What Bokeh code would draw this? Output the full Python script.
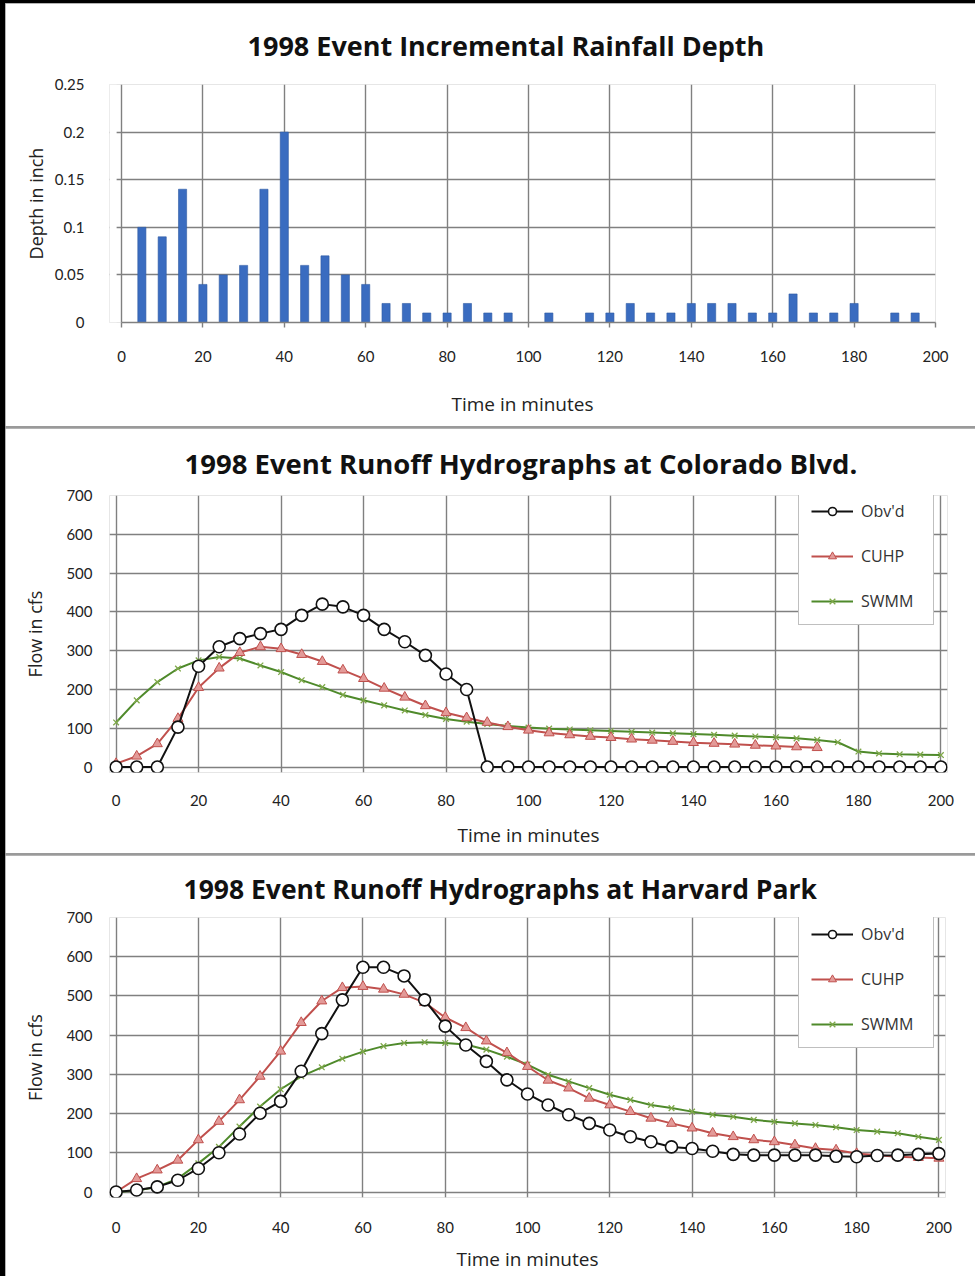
from bokeh.plotting import figure
from bokeh.layouts import column
from bokeh.models import (Range1d, FixedTicker, NumeralTickFormatter, Legend, LegendItem, Title,
                          BoxAnnotation)
from bokeh.embed import file_html
from bokeh.resources import INLINE

# ---------------- data ----------------
rain_time = [5, 10, 15, 20, 25, 30, 35, 40, 45, 50, 55, 60, 65, 70, 75, 80, 85, 90, 95,
             105, 115, 120, 125, 130, 135, 140, 145, 150, 155, 160, 165, 170, 175, 180, 190, 195]
rain_depth = [0.10, 0.09, 0.14, 0.04, 0.05, 0.06, 0.14, 0.20, 0.06, 0.07, 0.05, 0.04, 0.02, 0.02,
              0.01, 0.01, 0.02, 0.01, 0.01,
              0.01, 0.01, 0.01, 0.02, 0.01, 0.01, 0.02, 0.02, 0.02, 0.01, 0.01, 0.03, 0.01, 0.01,
              0.02, 0.01, 0.01]

time_min = [0, 5, 10, 15, 20, 25, 30, 35, 40, 45, 50, 55, 60, 65, 70, 75, 80, 85, 90, 95, 100,
            105, 110, 115, 120, 125, 130, 135, 140, 145, 150, 155, 160, 165, 170, 175, 180,
            185, 190, 195, 200]

colorado_obs = [0, 0, 0, 103, 260, 310, 331, 344, 355, 391, 420, 413, 391, 355, 323, 288, 240, 200,
                0, 0, 0, 0, 0, 0, 0, 0, 0, 0, 0, 0, 0, 0, 0, 0, 0, 0, 0, 0, 0, 0, 0]
colorado_cuhp_time = time_min[:35]
colorado_cuhp = [9, 28, 60, 125, 205, 255, 295, 310, 305, 290, 272, 250, 228, 203, 180, 158, 140,
                 127, 115, 104, 95, 88, 83, 79, 76, 72, 69, 66, 63, 61, 59, 56, 54, 52, 50]
colorado_swmm = [115, 172, 219, 254, 275, 284, 280, 262, 245, 224, 206, 186, 172, 159, 146, 134,
                 124, 117, 111, 106, 102, 99, 97, 95, 93, 91, 89, 87, 85, 83, 81, 79, 77, 74, 70,
                 64, 40, 35, 33, 32, 31]

harvard_obs = [0, 5, 13, 30, 60, 100, 148, 201, 231, 308, 404, 490, 573, 573, 551, 490, 423, 375,
               333, 286, 250, 222, 197, 175, 158, 141, 128, 115, 111, 104, 96, 94, 94, 94, 94, 91,
               90, 93, 94, 96, 98]
harvard_cuhp = [0, 34, 56, 81, 133, 180, 235, 295, 359, 432, 487, 521, 524, 517, 504, 483, 445,
                419, 385, 355, 320, 285, 265, 239, 222, 205, 188, 175, 163, 150, 141, 133, 128,
                120, 111, 107, 98, 94, 90, 88, 86]
harvard_swmm = [0, 4, 13, 34, 73, 115, 167, 218, 262, 295, 318, 340, 358, 372, 380, 382, 380, 376,
                363, 345, 325, 299, 282, 265, 248, 235, 222, 214, 205, 197, 192, 184, 179, 175,
                171, 165, 158, 154, 150, 141, 133]

x_ticks = [0, 20, 40, 60, 80, 100, 120, 140, 160, 180, 200]
depth_ticks = [0, 0.05, 0.1, 0.15, 0.2, 0.25]
flow_ticks = [0, 100, 200, 300, 400, 500, 600, 700]

# ---------------- style ----------------
TFONT = "Open Sans"
LFONT = "Open Sans"
NFONT = "Lato"
GRID = "#808080"
TXT = "#222222"
BAR = "#3a6cc0"
OBS = "#111111"
CUHP_LINE = "#c0504d"
CUHP_FILL = "#e39a98"
SWMM_LINE = "#4f8a2b"
SWMM_MARK = "#7fa84a"
LEFT = 104


def base_style(p, xlabel, ylabel, title, t_size, t_standoff, t_offset):
    p.add_layout(Title(text=title, align="left", text_font=TFONT, text_font_size=t_size,
                       text_font_style="bold", text_color="#111111",
                       standoff=t_standoff, offset=t_offset), "above")
    p.background_fill_color = "white"
    p.border_fill_color = "white"
    p.xaxis.axis_label = xlabel
    p.yaxis.axis_label = ylabel
    for ax in (p.xaxis[0], p.yaxis[0]):
        ax.axis_label_text_font = LFONT
        ax.axis_label_text_font_size = "18px"
        ax.axis_label_text_font_style = "normal"
        ax.axis_label_text_color = TXT
        ax.major_label_text_font = NFONT
        ax.major_label_text_font_size = "15px"
        ax.major_label_text_color = TXT
        ax.minor_tick_line_color = None
    p.xaxis.axis_label_text_font_size = "19px"
    p.xgrid.grid_line_color = GRID
    p.ygrid.grid_line_color = GRID
    p.xgrid.grid_line_width = 1.4
    p.ygrid.grid_line_width = 1.4


# ---------------- panel 1: rainfall ----------------
X1PAD = 2.95
p1 = figure(frame_width=826, frame_height=238, min_border_left=LEFT, min_border_top=81,
            min_border_right=40, min_border_bottom=104,
            x_range=Range1d(-X1PAD, 200), y_range=Range1d(0, 0.25),
            output_backend="svg", toolbar_location=None)
base_style(p1, "Time in minutes", "Depth in inch",
           "1998 Event Incremental Rainfall Depth", "27px", 41, 138)
p1.vbar(x=rain_time, top=rain_depth, width=2.0, fill_color=BAR, line_color="#2f5aa3",
        line_width=0.6)
p1.xaxis.ticker = FixedTicker(ticks=x_ticks)
p1.yaxis.ticker = FixedTicker(ticks=depth_ticks)
p1.yaxis.formatter = NumeralTickFormatter(format="0.[00]")
p1.outline_line_color = None
p1.xaxis.axis_line_color = GRID
p1.xaxis.axis_line_width = 1.4
p1.xaxis.bounds = (0, 200)
p1.xaxis.major_tick_line_color = GRID
p1.xaxis.major_tick_line_width = 1.4
p1.xaxis.major_tick_out = 5
p1.xaxis.major_tick_in = 0
p1.yaxis.axis_line_color = None
p1.yaxis.major_tick_line_color = None
p1.yaxis.major_tick_out = 0
p1.yaxis.major_tick_in = 0
p1.xaxis.major_label_standoff = 23
p1.xaxis.axis_label_standoff = 26
p1.yaxis.major_label_standoff = 25
p1.yaxis.axis_label_standoff = 4
# blank strip left of the time axis origin, leaving short tick stubs of the grid
p1.add_layout(BoxAnnotation(left=-X1PAD, right=-1.2, fill_color="white", fill_alpha=1.0,
                            line_alpha=0.0))

XPAD = 1.6
YPAD = 14


def hydro(frame_w, frame_h, top, right, bottom, title, t_size, t_standoff, t_offset,
          obs, cuhp_t, cuhp, swmm, leg_xy, xl_standoff, xa_standoff):
    p = figure(frame_width=frame_w, frame_height=frame_h, min_border_left=LEFT,
               min_border_top=top, min_border_right=right, min_border_bottom=bottom,
               x_range=Range1d(-XPAD, 200 + XPAD), y_range=Range1d(-YPAD, 700),
               output_backend="svg", toolbar_location=None)
    base_style(p, "Time in minutes", "Flow in cfs", title, t_size, t_standoff, t_offset)
    p.outline_line_color = None
    p.xaxis.ticker = FixedTicker(ticks=x_ticks)
    p.yaxis.ticker = FixedTicker(ticks=flow_ticks)
    for ax in (p.xaxis[0], p.yaxis[0]):
        ax.axis_line_color = None
        ax.major_tick_line_color = None
        ax.major_tick_out = 0
        ax.major_tick_in = 0
    p.xaxis.major_label_standoff = xl_standoff
    p.xaxis.axis_label_standoff = xa_standoff
    p.yaxis.major_label_standoff = 17
    p.yaxis.axis_label_standoff = 16

    sl = p.line(time_min, swmm, line_color=SWMM_LINE, line_width=2)
    sm = p.scatter(time_min, swmm, marker="x", size=8, line_color=SWMM_MARK, line_width=1.3)
    cl = p.line(cuhp_t, cuhp, line_color=CUHP_LINE, line_width=2)
    cm = p.scatter(cuhp_t, cuhp, marker="triangle", size=10, fill_color=CUHP_FILL,
                   line_color=CUHP_LINE, line_width=1)
    ol = p.line(time_min, obs, line_color=OBS, line_width=2)
    om = p.scatter(time_min, obs, marker="circle", size=12, fill_color="white",
                   line_color=OBS, line_width=1.6)

    legend = Legend(items=[LegendItem(label="Obv'd", renderers=[ol, om]),
                           LegendItem(label="CUHP", renderers=[cl, cm]),
                           LegendItem(label="SWMM", renderers=[sl, sm])],
                    location=leg_xy, padding=12, spacing=23, glyph_width=42,
                    glyph_height=20, label_height=20, label_width=60, label_standoff=8,
                    label_text_font=LFONT, label_text_font_size="16px",
                    label_text_color="#333333", border_line_color=GRID,
                    border_line_width=1.2, background_fill_color="white",
                    background_fill_alpha=1.0)
    p.add_layout(legend, "center")
    return p


p2 = hydro(838, 277, 67, 28, 81,
           "1998 Event Runoff Hydrographs at Colorado Blvd.", "27.5px", 27, 75,
           colorado_obs, colorado_cuhp_time, colorado_cuhp, colorado_swmm, (689, 147), 22, 13)
p3 = hydro(836, 280, 62, 30, 79,
           "1998 Event Runoff Hydrographs at Harvard Park", "26.5px", 22, 74,
           harvard_obs, time_min, harvard_cuhp, harvard_swmm, (689, 149), 24, 10)

inner = column(p1, p2, p3, spacing=2, styles={"background-color": "#9a9a9a"})
page = column(inner, styles={"background-color": "#000000", "padding-left": "5px",
                             "padding-top": "3px"})

open("out.html", "w").write(file_html(page, INLINE))
